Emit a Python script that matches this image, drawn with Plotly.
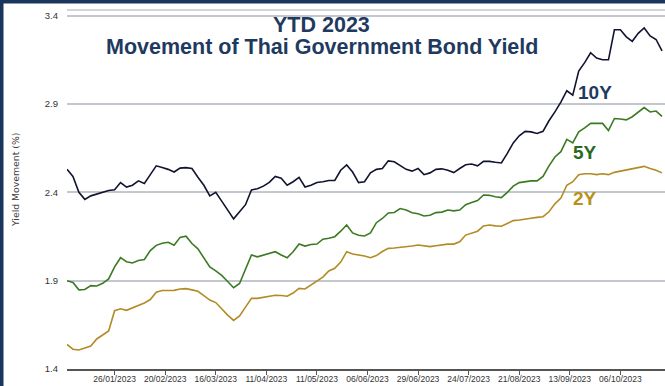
import plotly.graph_objects as go

# ---------------- data ----------------
# trading-day index of each sample (every 2nd trading day of 2023 YTD)
trading_day = list(range(0, 201, 2))

yield_10y = [2.53, 2.49, 2.40, 2.36, 2.38, 2.39, 2.40, 2.41, 2.414, 2.455,
             2.43, 2.44, 2.465, 2.45, 2.50, 2.55, 2.54, 2.53, 2.515, 2.537,
             2.54, 2.535, 2.485, 2.44, 2.38, 2.40, 2.35, 2.30, 2.25, 2.29,
             2.33, 2.414, 2.42, 2.435, 2.456, 2.49, 2.48, 2.44, 2.46, 2.485,
             2.43, 2.44, 2.456, 2.46, 2.467, 2.467, 2.525, 2.555, 2.515, 2.455,
             2.46, 2.51, 2.53, 2.535, 2.578, 2.573, 2.55, 2.53, 2.52, 2.535,
             2.50, 2.51, 2.53, 2.533, 2.525, 2.512, 2.535, 2.556, 2.56, 2.55,
             2.575, 2.575, 2.57, 2.566, 2.62, 2.68, 2.72, 2.745, 2.742, 2.733,
             2.745, 2.805, 2.855, 2.91, 2.975, 2.95, 3.086, 3.134, 3.19, 3.16,
             3.15, 3.15, 3.32, 3.32, 3.28, 3.255, 3.30, 3.33, 3.285, 3.265,
             3.20]

yield_5y = [1.90, 1.89, 1.848, 1.85, 1.872, 1.87, 1.885, 1.91, 1.978, 2.03,
            2.007, 2.00, 2.014, 2.02, 2.07, 2.10, 2.112, 2.117, 2.10, 2.145,
            2.152, 2.11, 2.08, 2.03, 1.978, 1.955, 1.93, 1.895, 1.86, 1.884,
            1.97, 2.045, 2.035, 2.044, 2.054, 2.064, 2.045, 2.03, 2.064, 2.108,
            2.096, 2.105, 2.107, 2.135, 2.14, 2.149, 2.18, 2.215, 2.17, 2.157,
            2.153, 2.17, 2.228, 2.252, 2.283, 2.286, 2.308, 2.30, 2.284, 2.279,
            2.266, 2.27, 2.285, 2.288, 2.30, 2.295, 2.30, 2.33, 2.342, 2.353,
            2.385, 2.383, 2.375, 2.37, 2.40, 2.435, 2.455, 2.46, 2.465, 2.465,
            2.49, 2.55, 2.60, 2.63, 2.70, 2.68, 2.742, 2.765, 2.79, 2.79,
            2.79, 2.75, 2.818, 2.815, 2.81, 2.828, 2.855, 2.88, 2.855, 2.86,
            2.83]

yield_2y = [1.539, 1.512, 1.508, 1.52, 1.53, 1.57, 1.595, 1.615, 1.73, 1.741,
            1.732, 1.745, 1.76, 1.774, 1.793, 1.834, 1.844, 1.843, 1.845, 1.853,
            1.855, 1.848, 1.84, 1.815, 1.79, 1.776, 1.74, 1.705, 1.675, 1.70,
            1.75, 1.80, 1.80, 1.806, 1.81, 1.817, 1.816, 1.812, 1.83, 1.856,
            1.853, 1.876, 1.894, 1.92, 1.955, 1.97, 2.005, 2.064, 2.051, 2.046,
            2.04, 2.03, 2.042, 2.065, 2.083, 2.085, 2.088, 2.09, 2.096, 2.102,
            2.098, 2.093, 2.098, 2.103, 2.107, 2.107, 2.12, 2.158, 2.167, 2.18,
            2.21, 2.215, 2.21, 2.208, 2.224, 2.24, 2.243, 2.25, 2.253, 2.258,
            2.262, 2.29, 2.335, 2.368, 2.44, 2.46, 2.50, 2.505, 2.505, 2.50,
            2.505, 2.50, 2.513, 2.52, 2.526, 2.533, 2.54, 2.547, 2.535, 2.525,
            2.51]

tick_day_index = [16, 33, 50, 67, 84, 101, 118, 135, 152, 169, 186]
tick_labels = ["26/01/2023", "20/02/2023", "16/03/2023", "11/04/2023",
               "11/05/2023", "06/06/2023", "29/06/2023", "24/07/2023",
               "21/08/2023", "13/09/2023", "06/10/2023"]
y_ticks = [1.4, 1.9, 2.4, 2.9, 3.4]

# ---------------- styling ----------------
W, H = 665, 386
ML, MR, MT, MB = 67, 0, 10, 17
PW, PH = W - ML - MR, H - MT - MB

NAVY = "#1f3a5f"
C10, C5, C2 = "#111330", "#3b7a22", "#b38b24"
L10, L5, L2 = "#1f3a5f", "#2b6a1e", "#b8901a"
GRID = "#c4c7ce"
TICKFONT = "Liberation Sans Narrow, Arial Narrow, Liberation Sans, Arial, sans-serif"
BOLD = "Liberation Sans, Arial, sans-serif"


def px_x(p):
    return (p - ML) / PW


def px_y(p):
    return (H - MB - p) / PH


fig = go.Figure()
for vals, col, name in [(yield_10y, C10, "10Y"), (yield_5y, C5, "5Y"), (yield_2y, C2, "2Y")]:
    fig.add_trace(go.Scatter(x=trading_day, y=vals, mode="lines", name=name,
                             line=dict(color=col, width=1.6), showlegend=False))

annotations = [
    dict(text="<b>YTD 2023</b>", x=px_x(321), y=px_y(25), font=dict(size=21.5, color=NAVY, family=BOLD)),
    dict(text="<b>Movement of Thai Government Bond Yield</b>", x=px_x(322), y=px_y(47),
         font=dict(size=21.5, color=NAVY, family=BOLD)),
    dict(text="<b>10Y</b>", x=px_x(595), y=px_y(92), font=dict(size=19, color=L10, family=BOLD)),
    dict(text="<b>5Y</b>", x=px_x(585), y=px_y(152), font=dict(size=19, color=L5, family=BOLD)),
    dict(text="<b>2Y</b>", x=px_x(585), y=px_y(198), font=dict(size=19, color=L2, family=BOLD)),
    dict(text="Yield Movement (%)", x=px_x(16), y=px_y(180), textangle=-90,
         font=dict(size=9.3, color="#404040", family="DejaVu Sans, sans-serif")),
]
for a in annotations:
    a.update(xref="paper", yref="paper", showarrow=False, xanchor="center", yanchor="middle")

shapes = [
    # light top border of plot area
    dict(type="line", xref="paper", yref="paper", x0=0, x1=1, y0=1, y1=1,
         line=dict(color=GRID, width=1.5)),
    # navy frame (left and top)
    dict(type="rect", xref="paper", yref="paper", x0=px_x(0), x1=px_x(3.5), y0=px_y(H), y1=px_y(0),
         fillcolor="#1b365d", line=dict(width=0), layer="above"),
    dict(type="rect", xref="paper", yref="paper", x0=px_x(0), x1=px_x(W), y0=px_y(3.5), y1=px_y(0),
         fillcolor="#1b365d", line=dict(width=0), layer="above"),
]

fig.update_layout(
    width=W, height=H,
    margin=dict(l=ML, r=MR, t=MT, b=MB, pad=0, autoexpand=False),
    paper_bgcolor="white", plot_bgcolor="white",
    annotations=annotations, shapes=shapes,
    xaxis=dict(range=[0, 201], tickmode="array", tickvals=tick_day_index, ticktext=tick_labels,
               showgrid=False, zeroline=False, showline=True, linecolor="#555555", linewidth=1.5,
               ticks="outside", ticklen=4, tickwidth=1, tickcolor="#555555", tickangle=0,
               automargin=False, ticklabelstandoff=-3,
               tickfont=dict(size=8.5, color="#333333", family=TICKFONT)),
    yaxis=dict(range=[1.4, 3.432], tickmode="array", tickvals=y_ticks,
               ticktext=[f"{v:.1f}" for v in y_ticks], automargin=False,
               showgrid=True, gridcolor=GRID, gridwidth=1.5, zeroline=False, showline=False,
               ticks="", ticklabelstandoff=8,
               tickfont=dict(size=9.5, color="#333333", family=TICKFONT)),
)

fig.write_html("out.html")
